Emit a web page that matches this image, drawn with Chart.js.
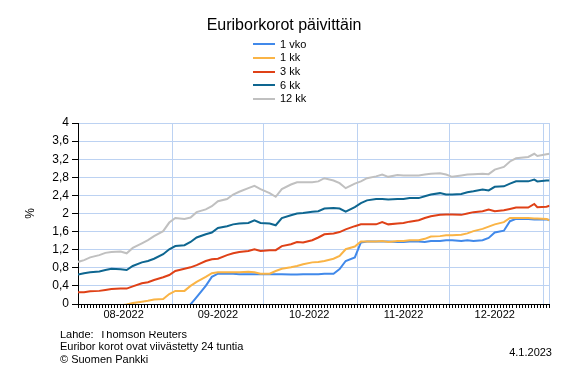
<!DOCTYPE html>
<html>
<head>
<meta charset="utf-8">
<script src="https://cdn.jsdelivr.net/npm/chart.js@4/dist/chart.umd.min.js"></script>
<style>
html,body{margin:0;padding:0;background:#fff;}
#wrap{position:relative;width:567px;height:378px;overflow:hidden;font-family:"Liberation Sans",Arial,sans-serif;color:#000;}
#c{position:absolute;left:0;top:0;}
.t{position:absolute;white-space:pre;}
#title{left:0;width:568px;text-align:center;top:16.5px;font-size:16px;line-height:16px;}
#legend{position:absolute;left:253px;top:37.4px;font-size:11px;line-height:11px;}
#legend .row{display:flex;align-items:center;height:13.7px;}
#legend .sw{display:inline-block;width:22px;height:2px;margin-right:5px;}
#foot{position:absolute;left:60px;top:327.8px;font-size:11px;line-height:12.5px;}
#clip1{position:relative;height:9.3px;overflow:hidden;margin-top:3.2px;}
#clip1 span{position:absolute;left:0;top:-3.2px;white-space:pre;}
#date{right:15px;top:346.8px;font-size:11px;line-height:11px;}
</style>
</head>
<body>
<div id="wrap">
  <canvas id="c" width="567" height="378"></canvas>
  <div class="t" id="title">Euriborkorot päivittäin</div>
  <div id="legend"></div>
  <div id="foot">
    <div id="clip1"><span>Lahde:  Thomson Reuters</span></div>
    <div>Euribor korot ovat viivästetty 24 tuntia</div>
    <div>© Suomen Pankki</div>
  </div>
  <div class="t" id="date">4.1.2023</div>
</div>
<script>
// ---- data ----
const START = '2022-08-01';
const X_END = '2023-01-03';
const DATES = [
 '2022-08-01','2022-08-03','2022-08-05','2022-08-08','2022-08-10','2022-08-12','2022-08-15','2022-08-17','2022-08-19','2022-08-22','2022-08-24','2022-08-26','2022-08-29','2022-08-31',
 '2022-09-02','2022-09-05','2022-09-07','2022-09-09','2022-09-12','2022-09-14','2022-09-16','2022-09-19','2022-09-21','2022-09-23','2022-09-26','2022-09-28','2022-09-30',
 '2022-10-03','2022-10-05','2022-10-07','2022-10-10','2022-10-12','2022-10-14','2022-10-17','2022-10-19','2022-10-21','2022-10-24','2022-10-26','2022-10-28','2022-10-31',
 '2022-11-02','2022-11-04','2022-11-07','2022-11-09','2022-11-11','2022-11-14','2022-11-16','2022-11-18','2022-11-21','2022-11-23','2022-11-25','2022-11-28','2022-11-30',
 '2022-12-02','2022-12-05','2022-12-07','2022-12-09','2022-12-12','2022-12-14','2022-12-16','2022-12-19','2022-12-21','2022-12-23','2022-12-27','2022-12-29','2022-12-30',
 '2023-01-02','2023-01-03'
];
const VKO1 = [
 -0.11,-0.11,-0.11,-0.10,-0.10,-0.10,-0.10,-0.10,-0.10,-0.10,-0.10,-0.10,-0.10,-0.09,
 -0.09,-0.08,-0.01,0.15,0.40,0.60,0.67,0.67,0.67,0.66,0.66,0.66,0.66,
 0.66,0.66,0.66,0.65,0.65,0.66,0.66,0.66,0.67,0.67,0.77,0.95,1.03,
 1.36,1.38,1.38,1.38,1.38,1.37,1.37,1.38,1.38,1.37,1.39,1.39,1.41,
 1.41,1.39,1.41,1.39,1.41,1.46,1.58,1.62,1.83,1.88,1.88,1.87,1.87,
 1.87,1.85
];
const KK1 = [
 -0.06,-0.05,-0.05,-0.04,-0.04,-0.03,-0.03,-0.01,0.02,0.05,0.07,0.10,0.11,0.22,
 0.29,0.29,0.40,0.49,0.60,0.68,0.70,0.70,0.70,0.70,0.71,0.70,0.67,
 0.67,0.73,0.78,0.81,0.84,0.88,0.92,0.93,0.95,1.00,1.06,1.21,1.27,
 1.38,1.38,1.38,1.39,1.37,1.39,1.39,1.41,1.41,1.44,1.49,1.50,1.52,
 1.52,1.53,1.56,1.61,1.66,1.71,1.76,1.81,1.90,1.90,1.90,1.89,1.89,
 1.88,1.85
];
const KK3 = [
 0.26,0.26,0.28,0.29,0.31,0.33,0.34,0.34,0.39,0.46,0.48,0.53,0.59,0.64,
 0.73,0.78,0.81,0.86,0.95,0.99,1.00,1.08,1.12,1.15,1.17,1.21,1.17,
 1.19,1.19,1.28,1.32,1.37,1.36,1.41,1.47,1.54,1.56,1.59,1.65,1.72,
 1.76,1.76,1.76,1.81,1.76,1.78,1.79,1.82,1.85,1.90,1.94,1.97,1.98,
 1.98,1.97,2.00,2.03,2.05,2.09,2.05,2.07,2.10,2.13,2.13,2.21,2.14,
 2.15,2.17
];
const KK6 = [
 0.65,0.68,0.70,0.72,0.75,0.78,0.77,0.75,0.84,0.92,0.95,1.00,1.10,1.21,
 1.28,1.30,1.37,1.47,1.54,1.58,1.68,1.72,1.76,1.78,1.79,1.85,1.79,
 1.78,1.74,1.90,1.96,2.00,2.01,2.04,2.05,2.11,2.12,2.11,2.04,2.14,
 2.23,2.29,2.32,2.32,2.31,2.32,2.32,2.34,2.34,2.38,2.42,2.45,2.42,
 2.42,2.43,2.47,2.49,2.53,2.51,2.59,2.60,2.66,2.71,2.71,2.75,2.71,
 2.73,2.73
];
const KK12 = [
 0.93,0.97,1.03,1.08,1.13,1.15,1.16,1.12,1.24,1.34,1.41,1.50,1.61,1.80,
 1.90,1.88,1.91,2.03,2.09,2.16,2.27,2.32,2.42,2.48,2.56,2.61,2.54,
 2.45,2.37,2.54,2.64,2.69,2.69,2.69,2.71,2.78,2.73,2.67,2.56,2.66,
 2.71,2.78,2.82,2.86,2.81,2.85,2.84,2.84,2.84,2.86,2.88,2.89,2.86,
 2.81,2.84,2.86,2.87,2.88,2.87,2.97,3.03,3.15,3.22,3.25,3.32,3.27,
 3.31,3.32
];
const SERIES_NAMES = ['1 vko','1 kk','3 kk','6 kk','12 kk'];
const SERIES_VALUES = [VKO1, KK1, KK3, KK6, KK12];
const COLORS = ['#4189EA','#FAB446','#DF4117','#0E6690','#C0C0C0'];
const Y_TICKS = [0,0.4,0.8,1.2,1.6,2,2.4,2.8,3.2,3.6,4];
const X_LABELS = ['08-2022','09-2022','10-2022','11-2022','12-2022'];
const X_LABEL_DATES = ['2022-08-16','2022-09-16','2022-10-16','2022-11-16','2022-12-16'];
const MONTH_STARTS = ['2022-09-01','2022-10-01','2022-11-01','2022-12-01','2023-01-01'];

// ---- helpers ----
const FONT = '"Liberation Sans", Arial, sans-serif';
const GRID = '#BCD2F2';
const t0 = Date.parse(START + 'T00:00:00Z');
const dayIdx = d => Math.round((Date.parse(d + 'T00:00:00Z') - t0) / 864e5);
const xMax = dayIdx(X_END);
const labelMap = new Map(X_LABEL_DATES.map((d, i) => [dayIdx(d), X_LABELS[i]]));
const gridDays = new Set(MONTH_STARTS.map(dayIdx).concat([xMax]));
const fmt = v => String(Math.round(v * 10) / 10).replace('.', ',');

// legend (HTML)
const lg = document.getElementById('legend');
SERIES_NAMES.forEach((n, i) => {
  const r = document.createElement('div'); r.className = 'row';
  const s = document.createElement('span'); s.className = 'sw'; s.style.background = COLORS[i];
  const tx = document.createElement('span'); tx.textContent = n;
  r.appendChild(s); r.appendChild(tx); lg.appendChild(r);
});

const datasets = SERIES_NAMES.map((n, i) => ({
  label: n,
  data: DATES.map((d, j) => ({ x: dayIdx(d), y: SERIES_VALUES[i][j] })),
  borderColor: COLORS[i],
  backgroundColor: COLORS[i],
  borderWidth: 2,
  pointRadius: 0,
  tension: 0,
  fill: false,
  clip: 0,
  order: SERIES_NAMES.length - i
}));

new Chart(document.getElementById('c'), {
  type: 'line',
  data: { datasets },
  options: {
    responsive: false,
    devicePixelRatio: 1,
    animation: false,
    events: [],
    layout: { padding: { top: 123, left: 23, right: 17.5, bottom: 0 } },
    plugins: { legend: { display: false }, tooltip: { enabled: false }, title: { display: false } },
    scales: {
      x: {
        type: 'linear', min: 0, max: xMax,
        afterBuildTicks: s => { const t = []; for (let v = 0; v <= xMax; v++) t.push({ value: v }); s.ticks = t; },
        afterFit: s => { s.height = 74; },
        grid: {
          color: c => (c.tick && gridDays.has(c.tick.value)) ? GRID : 'rgba(0,0,0,0)',
          tickColor: '#000', tickLength: 4, lineWidth: 1, drawOnChartArea: true
        },
        border: { color: '#000', width: 1 },
        ticks: {
          autoSkip: false, maxRotation: 0, minRotation: 0, padding: 0, color: '#000',
          font: { family: FONT, size: 11 },
          callback: v => labelMap.get(v) || ''
        }
      },
      y: {
        type: 'linear', min: 0, max: 4,
        afterBuildTicks: s => { s.ticks = Y_TICKS.map(v => ({ value: v })); },
        afterFit: s => { s.width = 55; },
        grid: { color: GRID, tickColor: '#000', tickLength: 6, lineWidth: 1 },
        border: { color: '#000', width: 1 },
        ticks: { padding: 3, color: '#000', font: { family: FONT, size: 12 }, callback: v => fmt(v) },
        title: { display: true, text: '%', color: '#000', font: { family: FONT, size: 12 }, padding: 0 }
      }
    }
  }
});
</script>
</body>
</html>
